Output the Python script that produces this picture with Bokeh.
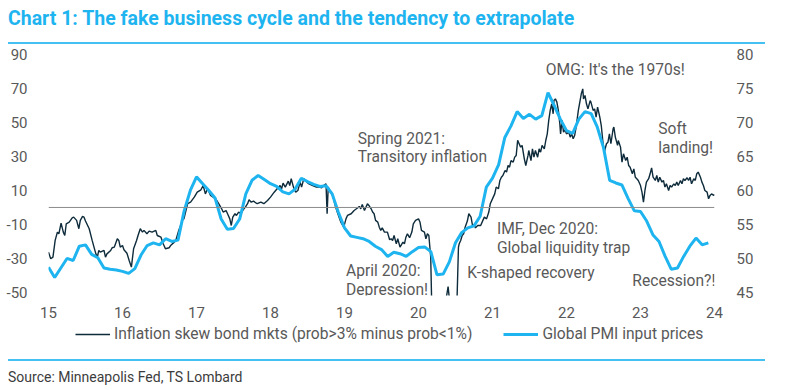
from bokeh.plotting import figure
from bokeh.models import (Range1d, LinearAxis, Span, Label, Legend, LegendItem,
                          FixedTicker, CustomJSTickFormatter, Div)
from bokeh.layouts import column
from bokeh.embed import file_html
from bokeh.resources import INLINE

# ---------------------------------------------------------------------------
# Data
# ---------------------------------------------------------------------------
# Inflation skew in bond markets (prob>3% minus prob<1%), left axis
skew_t = [
    15.00, 15.03, 15.06, 15.09, 15.12, 15.14, 15.17, 15.20, 15.22, 15.24,
    15.28, 15.32, 15.34, 15.38, 15.41, 15.43, 15.46, 15.48, 15.50, 15.55,
    15.59, 15.64, 15.66, 15.68, 15.70, 15.75, 15.77, 15.79, 15.84, 15.86,
    15.89, 15.93, 15.95, 15.97, 16.00, 16.02, 16.06, 16.09, 16.12, 16.15,
    16.19, 16.21, 16.24, 16.27, 16.29, 16.33, 16.36, 16.40, 16.45, 16.47,
    16.52, 16.55, 16.58, 16.63, 16.65, 16.70, 16.72, 16.76, 16.81, 16.83,
    16.88, 16.92, 16.97, 17.01, 17.06, 17.09, 17.12, 17.15, 17.19, 17.26,
    17.30, 17.34, 17.36, 17.40, 17.43, 17.45, 17.47, 17.49, 17.52, 17.54,
    17.57, 17.60, 17.63, 17.66, 17.69, 17.71, 17.74, 17.77, 17.82, 17.87,
    17.91, 17.96, 18.00, 18.05, 18.09, 18.13, 18.15, 18.17, 18.20, 18.24,
    18.26, 18.28, 18.31, 18.34, 18.37, 18.40, 18.42, 18.45, 18.49, 18.52,
    18.57, 18.62, 18.66, 18.69, 18.72, 18.75, 18.765, 18.78, 18.81, 18.84,
    18.88, 18.91, 18.95, 18.99, 19.02, 19.04, 19.09, 19.13, 19.18, 19.20,
    19.22, 19.24, 19.27, 19.31, 19.33, 19.36, 19.38, 19.40, 19.42, 19.45,
    19.47, 19.49, 19.51, 19.54, 19.58, 19.61, 19.63, 19.65, 19.67, 19.70,
    19.72, 19.75, 19.79, 19.81, 19.83, 19.85, 19.88, 19.91, 19.93, 19.96,
    20.00, 20.02, 20.04, 20.08, 20.10, 20.12, 20.14, 20.165, 20.18, 20.25,
    20.33, 20.38, 20.40, 20.42, 20.48, 20.52, 20.54, 20.55, 20.57, 20.59,
    20.61, 20.63, 20.66, 20.68, 20.71, 20.73, 20.75, 20.77, 20.80, 20.84,
    20.87, 20.89, 20.92, 20.95, 20.97, 21.01, 21.03, 21.05, 21.08, 21.10,
    21.12, 21.14, 21.17, 21.19, 21.21, 21.23, 21.25, 21.28, 21.30, 21.32,
    21.34, 21.36, 21.38, 21.40, 21.43, 21.45, 21.48, 21.49, 21.52, 21.54,
    21.56, 21.58, 21.61, 21.63, 21.65, 21.67, 21.70, 21.72, 21.74, 21.76,
    21.78, 21.80, 21.82, 21.83, 21.85, 21.87, 21.89, 21.91, 21.92, 21.94,
    21.96, 21.98, 22.00, 22.03, 22.05, 22.07, 22.09, 22.11, 22.13, 22.16,
    22.18, 22.20, 22.22, 22.23, 22.25, 22.27, 22.29, 22.32, 22.33, 22.36,
    22.38, 22.40, 22.42, 22.45, 22.47, 22.49, 22.51, 22.54, 22.56, 22.58,
    22.60, 22.63, 22.64, 22.66, 22.69, 22.70, 22.73, 22.75, 22.77, 22.80,
    22.82, 22.84, 22.86, 22.89, 22.91, 22.93, 22.95, 22.97, 23.00, 23.02,
    23.04, 23.06, 23.08, 23.11, 23.13, 23.15, 23.17, 23.20, 23.22, 23.24,
    23.26, 23.29, 23.31, 23.33, 23.35, 23.38, 23.40, 23.42, 23.45, 23.47,
    23.49, 23.51, 23.54, 23.56, 23.58, 23.60, 23.63, 23.65, 23.67, 23.69,
    23.72, 23.74, 23.76, 23.78, 23.81, 23.83, 23.85, 23.87, 23.90, 23.92,
    23.94, 23.96, 23.99, 24.00,
]
skew_v = [
    -26.3, -30.2, -29.2, -19.4, -14.5, -15.5, -9.2, -14.5, -16.5, -9.6,
    -8.6, -6.1, -5.7, -7.6, -12.5, -7.6, -5.3, -5.7, -8.0, -12.5,
    -19.4, -27.3, -29.2, -25.3, -26.3, -25.3, -29.2, -27.3, -25.3, -23.7,
    -23.3, -18.4, -19.4, -23.3, -22.4, -24.9, -26.9, -31.2, -35.1, -24.3,
    -19.4, -16.5, -12.5, -14.5, -13.5, -15.5, -13.9, -14.5, -13.5, -16.5,
    -17.5, -21.4, -24.3, -23.7, -22.4, -20.4, -19.4, -13.5, -7.6, -6.7,
    2.2, 3.1, 6.1, 9.0, 10.4, 12.9, 8.0, 11.0, 7.1, 5.1,
    2.2, -0.8, -2.7, -1.8, -4.7, -6.7, -10.6, -5.7, -3.7, -4.7,
    -2.7, -3.7, -1.4, 0.2, 2.2, 4.5, 3.1, 3.7, 2.2, 3.1,
    2.2, 4.1, 6.1, 9.0, 11.0, 12.9, 11.0, 14.3, 12.0, 15.5,
    12.9, 16.9, 12.0, 9.0, 10.0, 14.9, 12.0, 16.9, 14.9, 13.9,
    12.9, 12.0, 12.0, 11.6, 12.9, 13.9, -3.7, 12.0, 9.0, 7.1,
    0.2, -3.7, -8.6, -11.6, -6.7, -4.7, -3.7, -1.8, -0.2, 0.6,
    -0.8, 1.8, -1.8, 2.2, 1.2, -0.8, -2.7, -3.7, -7.6, -8.6,
    -11.6, -13.5, -12.0, -14.5, -14.5, -19.0, -18.4, -19.4, -16.5, -21.4,
    -18.4, -23.3, -20.4, -21.4, -17.5, -15.5, -17.8, -14.5, -9.6, -7.6,
    -6.7, -8.6, -13.5, -14.5, -18.4, -15.5, -16.5, -29.2, -60.0, -75.0,
    -70.0, -52.0, -46.5, -55.0, -65.0, -55.0, -23.3, -21.4, -19.4, -16.5,
    -15.5, -11.6, -8.0, -3.7, -5.7, -10.6, -10.0, -12.0, -10.6, -10.6,
    -7.6, -5.7, -6.7, -2.7, 2.2, 6.1, 8.0, 12.0, 11.0, 15.9,
    17.8, 18.8, 21.8, 20.8, 24.7, 23.7, 27.6, 26.7, 29.6, 30.6,
    39.5, 37.5, 35.5, 36.5, 28.6, 24.7, 30.6, 33.5, 27.6, 34.5,
    29.6, 33.5, 29.6, 34.5, 32.5, 36.5, 34.5, 39.4, 43.3, 51.2,
    57.1, 61.0, 55.1, 62.9, 63.9, 62.0, 57.1, 49.2, 43.3, 51.2,
    44.3, 45.7, 43.3, 44.3, 41.4, 43.3, 40.4, 42.4, 47.3, 57.1,
    62.0, 66.9, 69.8, 63.9, 65.9, 61.0, 58.0, 62.9, 62.0, 57.1,
    58.0, 53.1, 59.0, 53.1, 48.2, 39.4, 32.5, 37.5, 38.4, 43.3,
    37.5, 46.3, 47.3, 41.4, 36.5, 39.4, 35.5, 26.7, 31.6, 27.6,
    29.6, 24.7, 23.7, 19.8, 22.7, 17.8, 16.9, 15.9, 12.9, 9.0,
    3.1, 10.0, 14.9, 16.9, 19.8, 23.3, 17.8, 15.9, 18.8, 14.9,
    17.8, 14.9, 15.9, 12.0, 13.9, 10.0, 12.9, 12.0, 13.9, 12.9,
    14.9, 12.9, 15.9, 13.9, 16.9, 15.9, 17.5, 15.9, 17.8, 13.9,
    16.9, 15.9, 19.8, 20.8, 17.8, 14.9, 12.9, 10.0, 9.0, 5.1,
    7.1, 8.0, 7.1, 7.6,
]

# Global PMI input prices, monthly from Jan 2015, right axis
pmi_2015 = [48.7, 47.2, 48.6, 50.0, 49.7, 51.8, 52.0, 50.6, 50.1, 48.6, 48.4, 48.3]
pmi_2016 = [48.1, 47.8, 48.5, 50.5, 51.9, 52.3, 52.0, 52.9, 52.5, 52.7, 57.0, 60.0]
pmi_2017 = [62.0, 61.0, 60.0, 58.9, 55.8, 54.3, 54.4, 55.8, 59.5, 61.5, 62.2, 61.6]
pmi_2018 = [61.0, 60.6, 59.8, 59.5, 60.2, 61.8, 61.3, 60.9, 60.6, 60.7, 59.5, 56.8]
pmi_2019 = [54.5, 53.3, 53.1, 52.9, 52.5, 51.8, 51.3, 50.3, 50.9, 50.7, 50.3, 51.0]
pmi_2020 = [51.6, 51.7, 51.0, 47.6, 47.7, 49.5, 52.3, 53.8, 54.5, 54.8, 56.2, 60.5]
pmi_2021 = [61.8, 63.8, 67.8, 69.5, 71.6, 70.6, 71.2, 70.5, 71.0, 74.4, 72.5, 70.5]
pmi_2022 = [68.8, 68.4, 70.5, 71.6, 71.3, 69.3, 66.3, 61.5, 61.1, 60.8, 58.8, 57.0]
pmi_2023 = [56.9, 55.5, 53.5, 52.5, 50.3, 48.4, 48.6, 50.3, 51.8, 53.0, 52.0, 52.3]

year_ticks = [15, 16, 17, 18, 19, 20, 21, 22, 23, 24]
left_ticks = [-50, -30, -10, 10, 30, 50, 70, 90]
right_ticks = [45, 50, 55, 60, 65, 70, 75, 80]

title_text = "Chart 1: The fake business cycle and the tendency to extrapolate"
source_text = "Source: Minneapolis Fed, TS Lombard"
skew_label = "Inflation skew bond mkts (prob>3% minus prob<1%)"
pmi_label = "Global PMI input prices"

notes = [
    ("OMG: It's the 1970s!", 22.66, 80.6, "center"),
    ("Soft", 23.24, 45.9, "left"),
    ("landing!", 23.24, 34.7, "left"),
    ("Spring 2021:", 19.18, 40.0, "left"),
    ("Transitory inflation", 19.18, 29.4, "left"),
    ("IMF, Dec 2020:", 21.06, -12.9, "left"),
    ("Global liquidity trap", 21.06, -24.1, "left"),
    ("K-shaped recovery", 20.66, -38.8, "left"),
    ("Recession?!", 22.89, -43.5, "left"),
    ("April 2020:", 19.02, -37.6, "left"),
    ("Depression!", 19.02, -48.8, "left"),
]

# ---------------------------------------------------------------------------
# Styling
# ---------------------------------------------------------------------------
FONT = "Roboto"
TEXT_GREY = "#595959"
NAVY = "#0E2B3B"
SKY = "#1EB4EF"
RULE = "#45C0F2"
W = 788
BORDER_L, BORDER_R = 48, 74

pmi_v = pmi_2015 + pmi_2016 + pmi_2017 + pmi_2018 + pmi_2019 + pmi_2020 + pmi_2021 + pmi_2022 + pmi_2023
pmi_t = [15 + m / 12 for m in range(len(pmi_v))]

# ---------------------------------------------------------------------------
# Header: title with a rule underneath
# ---------------------------------------------------------------------------
header = Div(
    width=W, height=46,
    text=(
        f'<div style="position:relative;width:{W}px;height:46px;margin:0;padding:0;">'
        f'<div style="position:absolute;left:8px;top:7px;font-family:{FONT};font-weight:bold;'
        f'font-size:19.5px;line-height:24px;color:{SKY};white-space:nowrap;">{title_text}</div>'
        f'<div style="position:absolute;left:8px;top:42px;width:757px;height:2px;'
        f'background:{RULE};"></div></div>'
    ),
    styles={"margin": "0", "padding": "0"},
)

# ---------------------------------------------------------------------------
# Main chart
# ---------------------------------------------------------------------------
y_lo, y_hi = -51.8, 90.0
p = figure(width=W, height=276, x_range=Range1d(15, 24), y_range=Range1d(y_lo, y_hi),
           min_border_left=BORDER_L, min_border_right=BORDER_R, min_border_top=8,
           min_border_bottom=27, toolbar_location=None, output_backend="svg")
p.extra_y_ranges = {"pmi": Range1d(45 + (y_lo + 50) / 4, 45 + (y_hi + 50) / 4)}
p.grid.visible = False
p.outline_line_color = None

int_fmt = CustomJSTickFormatter(code="return Math.round(tick).toString();")


def style_axis(ax, standoff):
    ax.axis_line_color = None
    ax.major_tick_line_color = None
    ax.minor_tick_line_color = None
    ax.major_label_text_font = FONT
    ax.major_label_text_font_size = "15px"
    ax.major_label_text_color = TEXT_GREY
    ax.major_label_standoff = standoff
    ax.formatter = int_fmt


p.xaxis.ticker = FixedTicker(ticks=year_ticks)
style_axis(p.xaxis[0], 5)

p.yaxis.ticker = FixedTicker(ticks=left_ticks)
style_axis(p.yaxis[0], 15)

right = LinearAxis(y_range_name="pmi", ticker=FixedTicker(ticks=right_ticks))
style_axis(right, 16)
p.add_layout(right, "right")

p.add_layout(Span(location=0, dimension="width", line_color="#8C8C8C", line_width=1))

r_skew = p.line(skew_t, skew_v, line_color=NAVY, line_width=1.4)
r_pmi = p.line(pmi_t, pmi_v, line_color=SKY, line_width=3, y_range_name="pmi")

for txt, xx, yy, align in notes:
    p.add_layout(Label(x=xx, y=yy, text=txt, text_font=FONT, text_font_size="15.6px",
                       text_color=TEXT_GREY, text_align=align, text_baseline="middle"))

# ---------------------------------------------------------------------------
# Legend strip; key lines carry the same styles as the series
# ---------------------------------------------------------------------------
LEG_H = 30
leg = figure(width=W, height=LEG_H, x_range=Range1d(0, 1), y_range=Range1d(0, 1),
             x_axis_type=None, y_axis_type=None,
             min_border_left=BORDER_L, min_border_right=BORDER_R, min_border_top=0,
             min_border_bottom=0, toolbar_location=None, output_backend="svg")
leg.grid.visible = False
leg.outline_line_color = None
# keys sit outside the strip's visible range, only their legend swatches show
k_skew = leg.line(x=[-2, -1], y=[-2, -1], line_color=NAVY, line_width=1.6)
k_pmi = leg.line(x=[-2, -1], y=[-2, -1], line_color=SKY, line_width=3)
legend = Legend(items=[LegendItem(label=skew_label, renderers=[k_skew]),
                       LegendItem(label=pmi_label, renderers=[k_pmi])],
                orientation="horizontal", location=(27, 9),
                glyph_width=35, glyph_height=18, label_standoff=4, spacing=31,
                padding=0, margin=0, border_line_color=None, background_fill_alpha=0,
                label_text_font=FONT, label_text_font_size="15.6px",
                label_text_color=TEXT_GREY, label_height=18)
leg.add_layout(legend, "center")

# ---------------------------------------------------------------------------
# Footer: rule and source line
# ---------------------------------------------------------------------------
FOOT_H = 390 - 46 - 276 - LEG_H
footer = Div(
    width=W, height=FOOT_H,
    text=(
        f'<div style="position:relative;width:{W}px;height:{FOOT_H}px;margin:0;padding:0;">'
        f'<div style="position:absolute;left:8px;top:7px;width:757px;height:2px;'
        f'background:{RULE};"></div>'
        f'<div style="position:absolute;left:8px;top:16px;font-family:{FONT};font-size:14px;'
        f'line-height:18px;color:#3C3C3C;white-space:nowrap;">{source_text}</div></div>'
    ),
    styles={"margin": "0", "padding": "0"},
)

layout = column(header, p, leg, footer, spacing=0)

with open("out.html", "w") as f:
    f.write(file_html(layout, INLINE))
